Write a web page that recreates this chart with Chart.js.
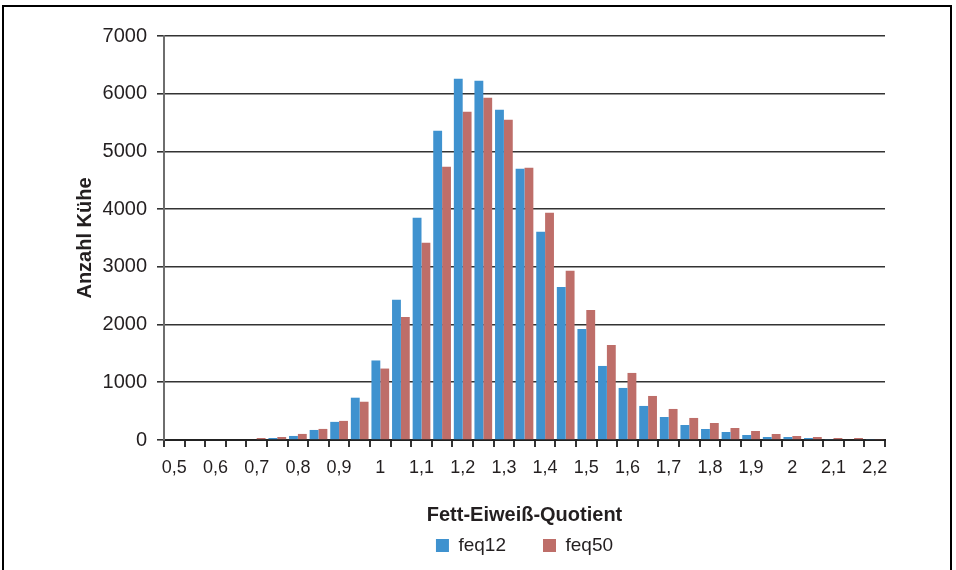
<!DOCTYPE html>
<html>
<head>
<meta charset="utf-8">
<script src="https://cdn.jsdelivr.net/npm/chart.js@4"></script>
<style>
body{margin:0;background:#fff;overflow:hidden;}
#wrap{position:relative;width:956px;height:570px;}
#rahmen{position:absolute;left:2px;top:5px;width:946px;height:600px;border:2px solid #000;pointer-events:none;}
</style>
</head>
<body>
<div id="wrap">
<canvas id="grafik" width="956" height="570"></canvas>
<div id="rahmen"></div>
</div>
<script>
// =========================
// DATEN
// =========================

let kategorien = ["0,5","0,55","0,6","0,65","0,7","0,75","0,8","0,85","0,9","0,95",
"1","1,05","1,1","1,15","1,2","1,25","1,3","1,35","1,4","1,45",
"1,5","1,55","1,6","1,65","1,7","1,75","1,8","1,85","1,9","1,95",
"2","2,05","2,1","2,15","2,2"];

let feq12 = [0,0,0,0,0,35,70,174,314,733,
1378,2428,3850,5358,6260,6225,5723,4699,3607,2653,
1925,1283,902,590,399,260,191,139,87,52,
52,35,17,0,17];

let feq50 = [0,0,0,0,35,52,105,192,331,663,
1238,2133,3416,4734,5688,5931,5549,4717,3936,2931,
2254,1647,1162,763,538,382,295,208,156,104,
69,52,35,35,17];

let yTicks = [0,1000,2000,3000,4000,5000,6000,7000];


// =========================
// GRAFIK
// =========================

let textFarbe = "#231f20";
let schrift = "'Liberation Sans', Arial, sans-serif";

let ctx = document.getElementById("grafik");

new Chart(ctx,{
type:"bar",
data:{
labels:kategorien,
datasets:[
{label:"feq12",data:feq12,backgroundColor:"#3f92cf"},
{label:"feq50",data:feq50,backgroundColor:"#be6e69"}
]
},
options:{
responsive:false,
animation:false,
layout:{padding:{left:69,right:71,top:36,bottom:5}},
datasets:{bar:{categoryPercentage:0.86,barPercentage:1}},
plugins:{
tooltip:{enabled:false},
legend:{
position:"bottom",
fullSize:false,
labels:{
boxWidth:13,
boxHeight:13,
padding:37,
color:textFarbe,
font:{family:schrift,size:19}
}
}
},
scales:{
x:{
afterFit:function(scale){ scale.height=59; },
grid:{
drawOnChartArea:false,
drawTicks:true,
tickLength:7,
color:"#333",
lineWidth:2
},
border:{color:"#222",width:2},
ticks:{
autoSkip:false,
maxRotation:0,
minRotation:0,
padding:10,
color:textFarbe,
font:{family:schrift,size:18},
callback:function(val,i){
return i%2===0 ? kategorien[i] : "";
}
},
title:{
display:true,
text:"Fett-Eiweiß-Quotient",
color:textFarbe,
font:{family:schrift,size:20,weight:"bold"},
padding:{top:0,bottom:-28}
}
},
y:{
min:0,
max:7000,
afterFit:function(scale){ scale.width=95; },
afterBuildTicks:function(scale){
scale.ticks=yTicks.map(function(v){ return {value:v}; });
},
grid:{
color:"#333",
lineWidth:1.6,
tickLength:7
},
border:{color:"#6e6e6e",width:2},
ticks:{
padding:10,
color:textFarbe,
font:{family:schrift,size:20},
callback:function(v){ return String(v); }
},
title:{
display:true,
text:"Anzahl Kühe",
color:textFarbe,
font:{family:schrift,size:20,weight:"bold"},
padding:{top:4,bottom:4}
}
}
}
}
});
</script>
</body>
</html>
